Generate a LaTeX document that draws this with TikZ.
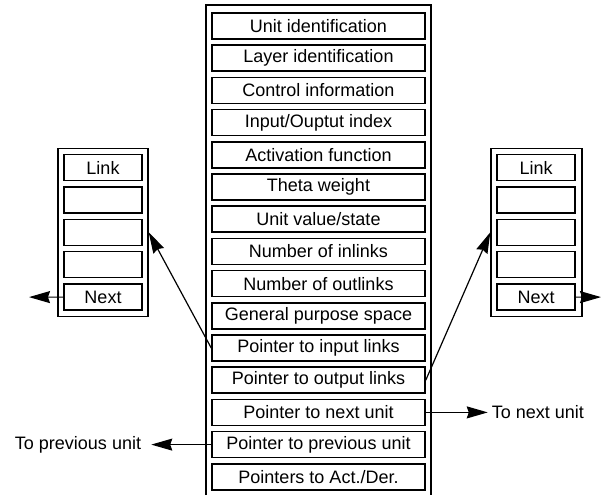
\documentclass[tikz,border=0pt]{standalone}
\usepackage{fontspec}
\setmainfont{Liberation Sans}
\usetikzlibrary{arrows.meta}
\begin{document}
\begin{tikzpicture}[x=1pt,y=-1pt,
  txt/.style={font=\fontsize{18}{20}\selectfont},
  field/.style={txt, draw, line width=1.5pt, minimum width=213pt, minimum height=26pt, inner sep=0pt},
  linkfield/.style={txt, draw, line width=1.5pt, minimum width=78pt, minimum height=26pt, inner sep=0pt},
  frame/.style={draw, line width=1.4pt, inner sep=0pt},
  arr/.style={line width=1.2pt, -{Stealth[length=21pt,width=12pt,inset=2pt]}},
  lbl/.style={txt, inner sep=0pt}]
\useasboundingbox (0,0) rectangle (601,495);
% central unit frame (open at the bottom)
\draw[line width=1.4pt] (206,495) -- (206,5) -- (431,5) -- (431,495);
\foreach \t [count=\i] in {Unit identification, Layer identification, Control information, Input/Ouptut index, Activation function, Theta weight, Unit value/state, Number of inlinks, Number of outlinks, General purpose space, Pointer to input links, Pointer to output links, Pointer to next unit, Pointer to previous unit, Pointers to Act./Der.}
  \node[field] (c\i) at (318.5,{26+(\i-1)*32.2}) {\t};
% link blocks
\node[frame, minimum width=90pt, minimum height=168pt] (lf) at (103,232.3) {};
\node[frame, minimum width=91pt, minimum height=168pt] (rf) at (536.5,232.3) {};
\foreach \t [count=\i] in {Link,,,,Next} {
  \node[linkfield] (l\i) at (103,{167.5+(\i-1)*32.4}) {\t};
  \node[linkfield] (r\i) at (536,{167.5+(\i-1)*32.4}) {\t};
}
% arrows
\draw[arr] (c11.west) -- (lf.east);
\draw[arr] (c12.east) -- (rf.west);
\coordinate (lend) at (29,297.1);
\coordinate (rend) at (601,297.1);
\draw[arr] (l5.west) -- (lend);
\draw[arr] (r5.east) -- (rend);
\node[lbl, anchor=west] (tn) at ([xshift=66pt]c13.east) {To next unit};
\draw[arr] (c13.east) -- ([xshift=-4pt]tn.west);
\node[lbl, anchor=east] (tp) at ([xshift=-70pt]c14.west) {To previous unit};
\draw[arr] (c14.west) -- ([xshift=10pt]tp.east);
\end{tikzpicture}
\end{document}
